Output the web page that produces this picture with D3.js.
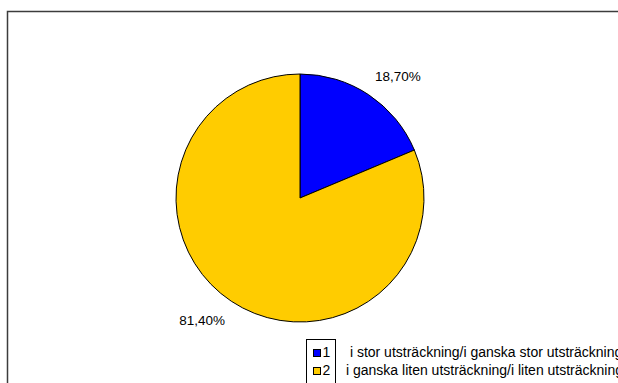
<!DOCTYPE html>
<html>
<head>
<meta charset="utf-8">
<script src="https://cdn.jsdelivr.net/npm/d3@7"></script>
<style>
  html, body { margin: 0; padding: 0; background: #fff; }
  svg { display: block; font-family: "Liberation Sans", Arial, sans-serif; }
</style>
</head>
<body>
<svg id="chart" width="618" height="383"></svg>
<script>
// Slice keys, shares (percent) and legend descriptions
const keys = ["1", "2"];
const shares = [18.7, 81.4];
const shareLabels = ["18,70%", "81,40%"];
const descriptions = [
  " i stor utsträckning/i ganska stor utsträckning",
  "i ganska liten utsträckning/i liten utsträckning"
];
const colors = ["#0000FF", "#FFCC00"];

const svg = d3.select("#chart");
const W = 618, H = 383;

// Chart area frame (runs off the right and bottom edges)
svg.append("rect")
  .attr("x", 7.5).attr("y", 11.5)
  .attr("width", W + 20).attr("height", H + 20)
  .attr("fill", "#fff")
  .attr("stroke", "#3c3c3c")
  .attr("stroke-width", 1.5);

const cx = 300, cy = 198, r = 124;

const pie = d3.pie().sort(null).value(d => d)
  .startAngle(0).endAngle(2 * Math.PI);
const arcs = pie(shares);
const arc = d3.arc().innerRadius(0).outerRadius(r);

const g = svg.append("g").attr("transform", `translate(${cx},${cy})`);

g.selectAll("path.slice")
  .data(arcs)
  .join("path")
  .attr("class", "slice")
  .attr("d", arc)
  .attr("fill", (d, i) => colors[i])
  .attr("stroke", "#000")
  .attr("stroke-width", 1);

// Outside-end labels: anchored just beyond the rim at each slice's mid angle,
// pushed away from the pie along the label's corner nearest the rim
const fs = 13.5;
g.selectAll("text.share")
  .data(arcs)
  .join("text")
  .attr("class", "share")
  .attr("font-size", fs)
  .attr("fill", "#000")
  .text((d, i) => shareLabels[i])
  .each(function (d) {
    const a = (d.startAngle + d.endAngle) / 2;
    const sx = Math.sin(a), sy = -Math.cos(a);
    const ex = (r + 4) * sx, ey = (r + 4) * sy;
    const w = this.getComputedTextLength();
    const h = fs * 0.75;
    const x = sx >= 0 ? ex + 4 : ex - 4 - w;
    const yTop = sy <= 0 ? ey - 10 - h : ey + 10;
    d3.select(this)
      .attr("x", x)
      .attr("y", yTop + h);
  });

// Legend: boxed keys with descriptions beside them
const lg = svg.append("g");
const boxX = 306.5, boxY = 339.5, rowH = 18;
lg.append("rect")
  .attr("x", boxX).attr("y", boxY)
  .attr("width", 29).attr("height", rowH * keys.length + 8)
  .attr("fill", "#fff")
  .attr("stroke", "#000")
  .attr("stroke-width", 1);

const rows = lg.selectAll("g.row")
  .data(keys)
  .join("g")
  .attr("class", "row")
  .attr("transform", (d, i) => `translate(0,${boxY + 12.5 + i * rowH})`);

rows.append("rect")
  .attr("x", 313.5).attr("y", -2.5)
  .attr("width", 7).attr("height", 7)
  .attr("fill", (d, i) => colors[i])
  .attr("stroke", "#000")
  .attr("stroke-width", 1);

rows.append("text")
  .attr("x", 322.5).attr("y", 5)
  .attr("font-size", 14)
  .text(d => d);

rows.append("text")
  .attr("x", 346).attr("y", 5)
  .attr("font-size", 14)
  .style("white-space", "pre")
  .text((d, i) => descriptions[i]);
</script>
</body>
</html>
